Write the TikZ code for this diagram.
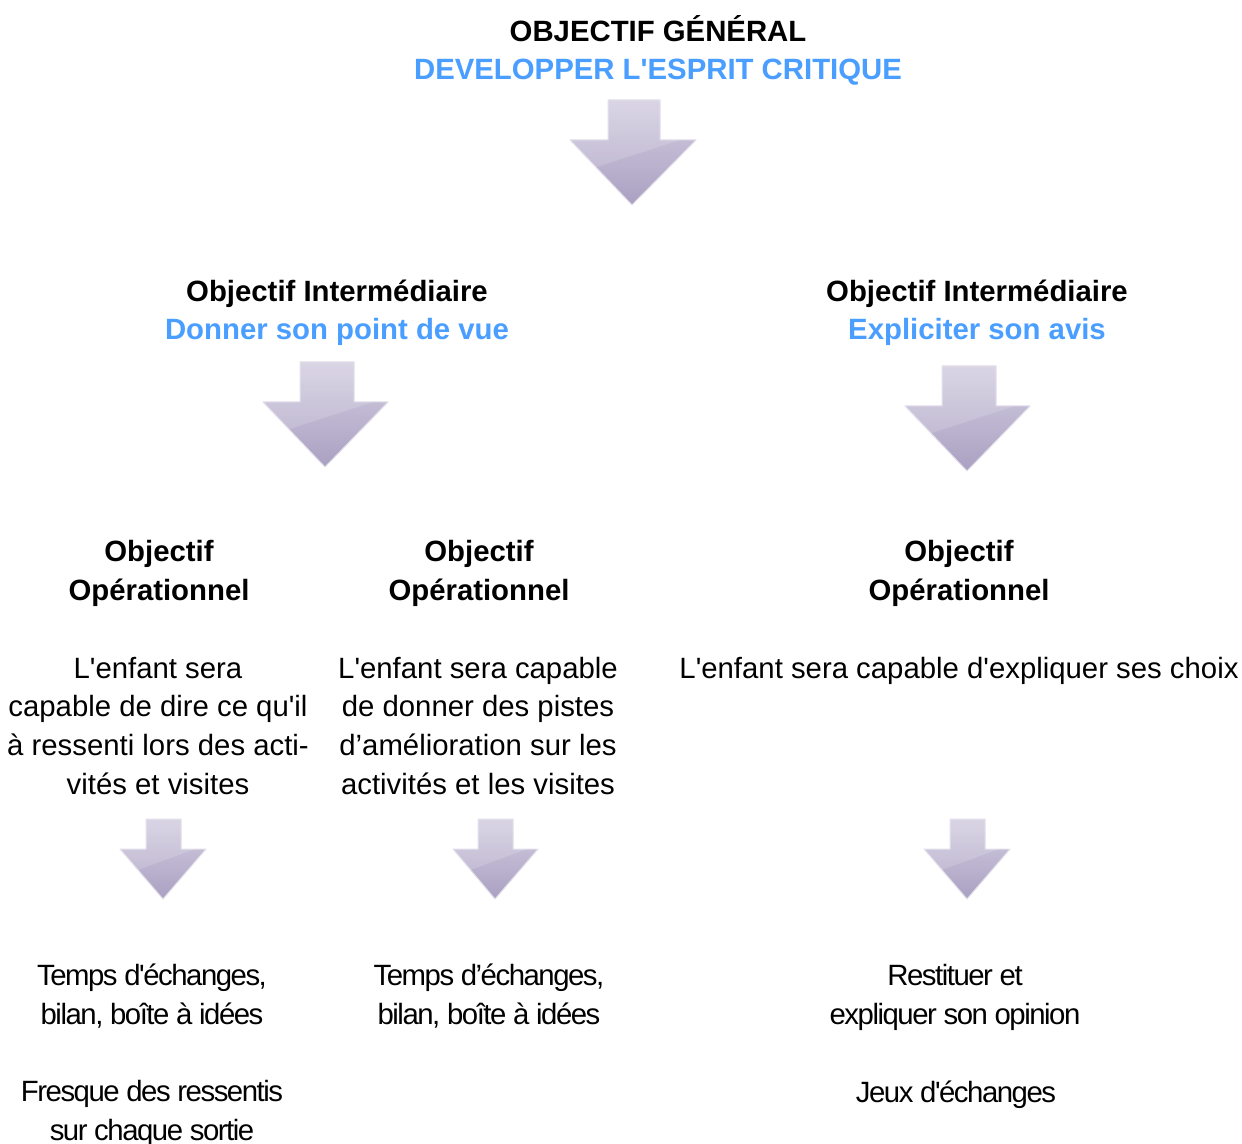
\documentclass[tikz,border=0pt]{standalone}
\usepackage{fontspec}
\setmainfont{Liberation Sans}[Ligatures=TeXOff]
\newfontfamily\narrowfont{Liberation Sans}[LetterSpace=-5,Ligatures=TeXOff]
\usetikzlibrary{calc}
\definecolor{blueT}{HTML}{4A9EFF}
\definecolor{arrLight}{HTML}{D4CEE1}
\definecolor{arrDark}{HTML}{AAA0C2}
\definecolor{arrEdge}{HTML}{E2DEEA}
% #1 shaft left x, #2 shaft right x, #3 top y, #4 shoulder y,
% #5 wing left x, #6 wing right x, #7 tip x, #8 tip y
\newcommand\ArrowDownShape[8]{%
  \shade[top color=arrLight, bottom color=arrDark, draw=arrEdge, line width=0.75pt, line join=round]
    (#1,#3) -- (#2,#3) -- (#2,#4) -- (#6,#4) -- (#7,#8) -- (#5,#4) -- (#1,#4) -- cycle;
  \fill[white, opacity=0.15]
    (#1,#3) -- (#2,#3) -- (#2,#4) -- ($(#2,#4)!0.55!(#6,#4)$) -- ($(#5,#4)!0.42!(#7,#8)$) -- (#5,#4) -- (#1,#4) -- cycle;
}
\begin{document}
\begin{tikzpicture}[x=0.75pt, y=-0.75pt,
  headtxt/.style={font=\fontsize{22}{29}\selectfont\bfseries, anchor=base, align=center, inner sep=0pt},
  bodytxt/.style={font=\fontsize{22}{29}\selectfont, anchor=base, align=center, inner sep=0pt},
  lowtxt/.style={font=\narrowfont\fontsize{22}{29}\selectfont, anchor=base, align=center, inner sep=0pt}]
\useasboundingbox (0,0) rectangle (1242,1144);
\fill[white] (0,0) rectangle (1242,1144);

% titles (anchor = baseline of last line)
\node[headtxt] (gen) at (658,80) {OBJECTIF GÉNÉRAL\\\textcolor{blueT}{DEVELOPPER L'ESPRIT CRITIQUE}};
\node[headtxt] (intL) at (337,340) {Objectif Intermédiaire\\\textcolor{blueT}{Donner son point de vue}};
\node[headtxt] (intR) at (977,340) {Objectif Intermédiaire\\\textcolor{blueT}{Expliciter son avis}};

\node[headtxt] (opL) at (159,600) {Objectif\\Opérationnel};
\node[headtxt] (opM) at (479,600) {Objectif\\Opérationnel};
\node[headtxt] (opR) at (959,600) {Objectif\\Opérationnel};

\node[bodytxt] (bodyL) at (158,794) {L'enfant sera\\capable de dire ce qu'il\\à ressenti lors des acti-\\vités et visites};
\node[bodytxt] (bodyM) at (478,794) {L'enfant sera capable\\de donner des pistes\\d’amélioration sur les\\activités et les visites};
\node[bodytxt] (bodyR) at (959,678) {L'enfant sera capable d'expliquer ses choix};

\node[lowtxt] (actL) at (152,1024) {Temps d'échanges,\\bilan, boîte à idées};
\node[lowtxt] (actL2) at (152,1140) {Fresque des ressentis\\sur chaque sortie};
\node[lowtxt] (actM) at (489,1024) {Temps d’échanges,\\bilan, boîte à idées};
\node[lowtxt] (actR) at (955,1024) {Restituer et\\expliquer son opinion};
\node[lowtxt] (actR2) at (956,1102) {Jeux d'échanges};

% arrows
\ArrowDownShape{608}{660}{100}{140}{570}{696}{632}{205}
\ArrowDownShape{300}{354}{362}{402}{263}{388}{325}{467}
\ArrowDownShape{942}{996}{366}{406}{905}{1030}{967}{471}
\ArrowDownShape{146}{181}{819}{849}{120}{206}{163}{899}
\ArrowDownShape{478}{513}{819}{849}{453}{538}{495}{899}
\ArrowDownShape{950}{985}{819}{849}{924}{1010}{967}{899}
\end{tikzpicture}
\end{document}
